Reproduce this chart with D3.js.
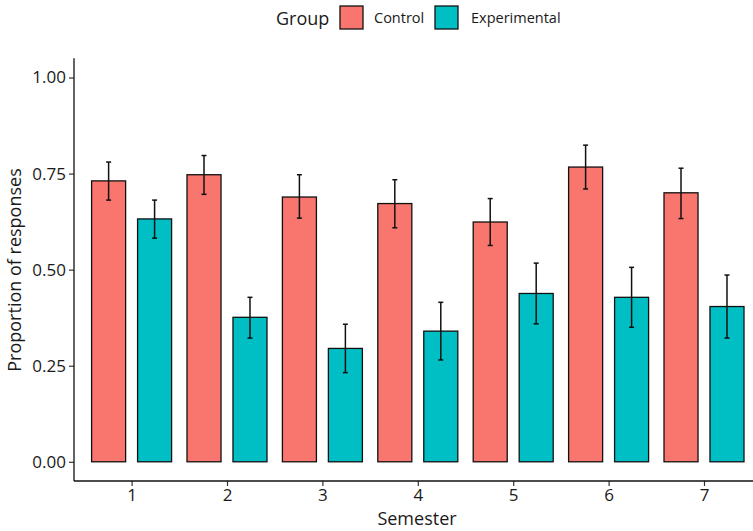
<!DOCTYPE html>
<html>
<head>
<meta charset="utf-8">
<script src="https://cdn.jsdelivr.net/npm/d3@7"></script>
<style>
body { margin: 0; background: #fff; }
text { font-family: "Open Sans", "Noto Sans", sans-serif; fill: #1a1a1a; }
</style>
</head>
<body>
<div id="plot"></div>
<script>
var w = 753;
var h = 531;

var semesters = [1, 2, 3, 4, 5, 6, 7];
var groups = ["Control", "Experimental"];
var colors = ["#F8766D", "#00BFC4"];

var controlMean = [0.731, 0.747, 0.689, 0.672, 0.624, 0.767, 0.700];
var controlLow  = [0.681, 0.696, 0.634, 0.609, 0.563, 0.710, 0.633];
var controlHigh = [0.780, 0.797, 0.747, 0.734, 0.685, 0.824, 0.764];

var expMean = [0.632, 0.376, 0.295, 0.340, 0.438, 0.428, 0.404];
var expLow  = [0.582, 0.322, 0.232, 0.265, 0.359, 0.350, 0.322];
var expHigh = [0.681, 0.428, 0.358, 0.415, 0.517, 0.506, 0.486];

var yTicks = [0, 0.25, 0.5, 0.75, 1.0];

var dataset = [];
semesters.forEach(function(s, i) {
	dataset.push({Semester: s, Group: "Control", mean: controlMean[i], low: controlLow[i], high: controlHigh[i]});
	dataset.push({Semester: s, Group: "Experimental", mean: expMean[i], low: expLow[i], high: expHigh[i]});
});

var xScale = d3.scalePoint()
	.domain(semesters)
	.range([131.6, 704]);

var subScale = d3.scaleBand()
	.domain(groups)
	.range([-40, 40])
	.paddingInner(0.26);

var yScale = d3.scaleLinear()
	.domain([-0.05, 1.05])
	.range([481, 58.3]);

var colorScale = d3.scaleOrdinal().domain(groups).range(colors);

var svg = d3.select("#plot").append("svg").attr("width", w).attr("height", h);

// bars
svg.selectAll(".bar")
	.data(dataset)
	.enter()
	.append("rect")
	.attr("class", "bar")
	.attr("x", function(d) { return xScale(d.Semester) + subScale(d.Group); })
	.attr("y", function(d) { return yScale(d.mean); })
	.attr("width", subScale.bandwidth())
	.attr("height", function(d) { return yScale(0) - yScale(d.mean); })
	.attr("fill", function(d) { return colorScale(d.Group); })
	.attr("stroke", "#111")
	.attr("stroke-width", 1.3);

// error bars
var err = svg.selectAll(".err")
	.data(dataset)
	.enter()
	.append("g")
	.attr("class", "err")
	.attr("transform", function(d) {
		return "translate(" + (xScale(d.Semester) + subScale(d.Group) + subScale.bandwidth() / 2) + ",0)";
	})
	.attr("stroke", "#111")
	.attr("stroke-width", 1.5);

err.append("line")
	.attr("x1", 0).attr("x2", 0)
	.attr("y1", function(d) { return yScale(d.low); })
	.attr("y2", function(d) { return yScale(d.high); });
err.append("line")
	.attr("x1", -2.5).attr("x2", 2.5)
	.attr("y1", function(d) { return yScale(d.low); })
	.attr("y2", function(d) { return yScale(d.low); });
err.append("line")
	.attr("x1", -2.5).attr("x2", 2.5)
	.attr("y1", function(d) { return yScale(d.high); })
	.attr("y2", function(d) { return yScale(d.high); });

// axes
var xAxis = d3.axisBottom(xScale).tickSize(5).tickPadding(3);
var yAxis = d3.axisLeft(yScale).tickValues(yTicks).tickFormat(d3.format(".2f")).tickSize(5).tickPadding(3);

var gx = svg.append("g")
	.attr("transform", "translate(0,481)")
	.call(xAxis);
gx.select(".domain").remove();
gx.append("line")
	.attr("x1", 74).attr("x2", w)
	.attr("y1", 0).attr("y2", 0)
	.attr("stroke", "#111").attr("stroke-width", 1.3);
gx.selectAll(".tick line").attr("stroke", "#333").attr("stroke-width", 1.2);
gx.selectAll(".tick text").attr("font-size", 17).attr("fill", "#1a1a1a")
	.style("font-family", "'Open Sans', sans-serif");

var gy = svg.append("g")
	.attr("transform", "translate(74,0)")
	.call(yAxis);
gy.select(".domain").remove();
gy.append("line")
	.attr("x1", 0).attr("x2", 0)
	.attr("y1", 58.3).attr("y2", 481)
	.attr("stroke", "#111").attr("stroke-width", 1.3);
gy.selectAll(".tick line").attr("stroke", "#333").attr("stroke-width", 1.2);
gy.selectAll(".tick text").attr("font-size", 17).attr("fill", "#1a1a1a")
	.style("font-family", "'Open Sans', sans-serif");

// axis titles
svg.append("text")
	.attr("x", 417)
	.attr("y", 525)
	.attr("text-anchor", "middle")
	.attr("font-size", 18)
	.text("Semester");

svg.append("text")
	.attr("transform", "translate(21,270) rotate(-90)")
	.attr("text-anchor", "middle")
	.attr("font-size", 18)
	.text("Proportion of responses");

// legend
var legend = svg.append("g");
legend.append("text")
	.attr("x", 276)
	.attr("y", 25)
	.attr("font-size", 18)
	.text("Group");

var keyX = [340, 435];
var labelX = [374, 471];
groups.forEach(function(g, i) {
	legend.append("rect")
		.attr("x", keyX[i])
		.attr("y", 6)
		.attr("width", 23)
		.attr("height", 23)
		.attr("fill", colors[i])
		.attr("stroke", "#111")
		.attr("stroke-width", 1.3);
	legend.append("text")
		.attr("x", labelX[i])
		.attr("y", 23)
		.attr("font-size", 14.5)
		.text(g);
});
</script>
</body>
</html>
